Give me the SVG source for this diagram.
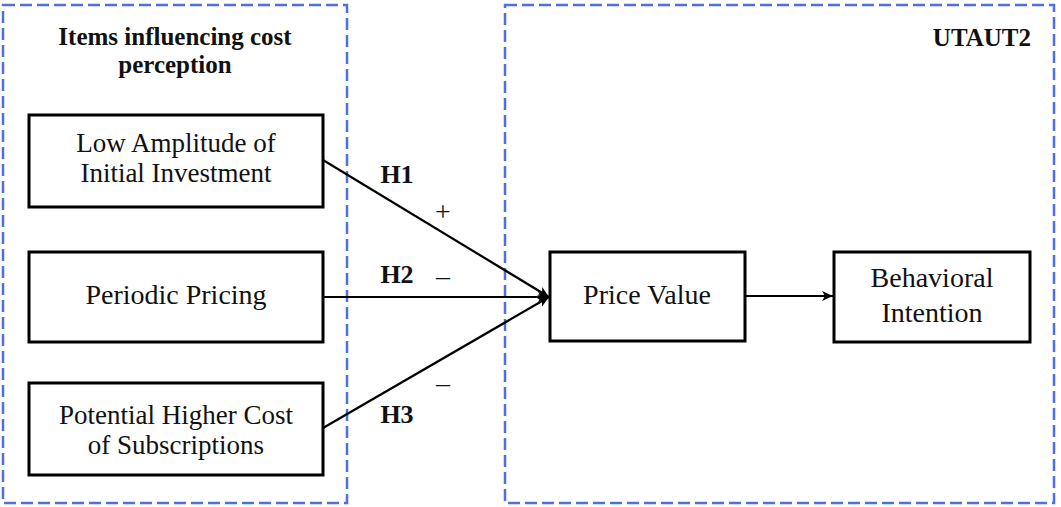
<svg xmlns="http://www.w3.org/2000/svg" width="1061" height="507" viewBox="0 0 1061 507">
  <style>
    .frame { fill: none; stroke: #4f6fe8; stroke-width: 2.5; stroke-dasharray: 12 5; }
    .node rect { fill: #ffffff; stroke: #000000; stroke-width: 3; }
    .label { font-family: "Liberation Serif", "Times New Roman", serif; font-size: 27px; fill: #111111; text-anchor: middle; }
    .label.big { font-size: 28px; }
    .title { font-family: "Liberation Serif", "Times New Roman", serif; font-size: 25px; font-weight: bold; fill: #111111; }
    .hyp { font-family: "Liberation Serif", "Times New Roman", serif; font-size: 26px; font-weight: bold; fill: #111111; text-anchor: middle; }
    .sign { font-family: "Liberation Serif", "Times New Roman", serif; font-size: 28px; fill: #111111; text-anchor: middle; }
    .edge { fill: none; stroke: #000000; stroke-width: 2.2; }
  </style>
  <defs>
    <marker id="arrow" markerUnits="userSpaceOnUse" markerWidth="13" markerHeight="13" viewBox="0 0 13 13" refX="12" refY="6.5" orient="auto">
      <path d="M1,1.5 L12,6.5 L1,11.5 L4,6.5 Z" fill="#000000"/>
    </marker>
  </defs>

  <rect width="1061" height="507" fill="#ffffff"/>

  <!-- grouping frames -->
  <g id="frames">
    <rect class="frame" x="3" y="5" width="344" height="498"/>
    <rect class="frame" x="505" y="5" width="549" height="498"/>
    <text class="title" x="175" y="45" text-anchor="middle">Items influencing cost</text>
    <text class="title" x="175" y="73" text-anchor="middle">perception</text>
    <text class="title" x="1031" y="46" text-anchor="end">UTAUT2</text>
  </g>

  <!-- connectors -->
  <g id="connectors">
    <line class="edge" x1="323" y1="160" x2="549" y2="297" marker-end="url(#arrow)"/>
    <line class="edge" x1="323" y1="297" x2="549" y2="297" marker-end="url(#arrow)"/>
    <line class="edge" x1="323" y1="428" x2="549" y2="297" marker-end="url(#arrow)"/>
    <line class="edge" x1="745" y1="296" x2="833" y2="296" marker-end="url(#arrow)"/>
    <text class="hyp" x="397" y="183">H1</text>
    <text class="sign" x="443" y="221">+</text>
    <text class="hyp" x="397" y="283">H2</text>
    <text class="sign" x="443" y="285">–</text>
    <text class="sign" x="443" y="392">–</text>
    <text class="hyp" x="397" y="423">H3</text>
  </g>

  <g id="node-low-amplitude" class="node">
    <rect x="29" y="115" width="294" height="92"/>
    <text class="label" x="176" y="152">Low Amplitude of</text>
    <text class="label" x="176" y="182">Initial Investment</text>
  </g>

  <g id="node-periodic-pricing" class="node">
    <rect x="29" y="252" width="294" height="90"/>
    <text class="label big" x="176" y="304">Periodic Pricing</text>
  </g>

  <g id="node-higher-cost" class="node">
    <rect x="29" y="383" width="294" height="92"/>
    <text class="label" x="176" y="424">Potential Higher Cost</text>
    <text class="label" x="176" y="454">of Subscriptions</text>
  </g>

  <g id="node-price-value" class="node">
    <rect x="550" y="252" width="195" height="89"/>
    <text class="label big" x="647" y="304">Price Value</text>
  </g>

  <g id="node-behavioral-intention" class="node">
    <rect x="834" y="252" width="196" height="90"/>
    <text class="label big" x="932" y="287">Behavioral</text>
    <text class="label big" x="932" y="322">Intention</text>
  </g>
</svg>
